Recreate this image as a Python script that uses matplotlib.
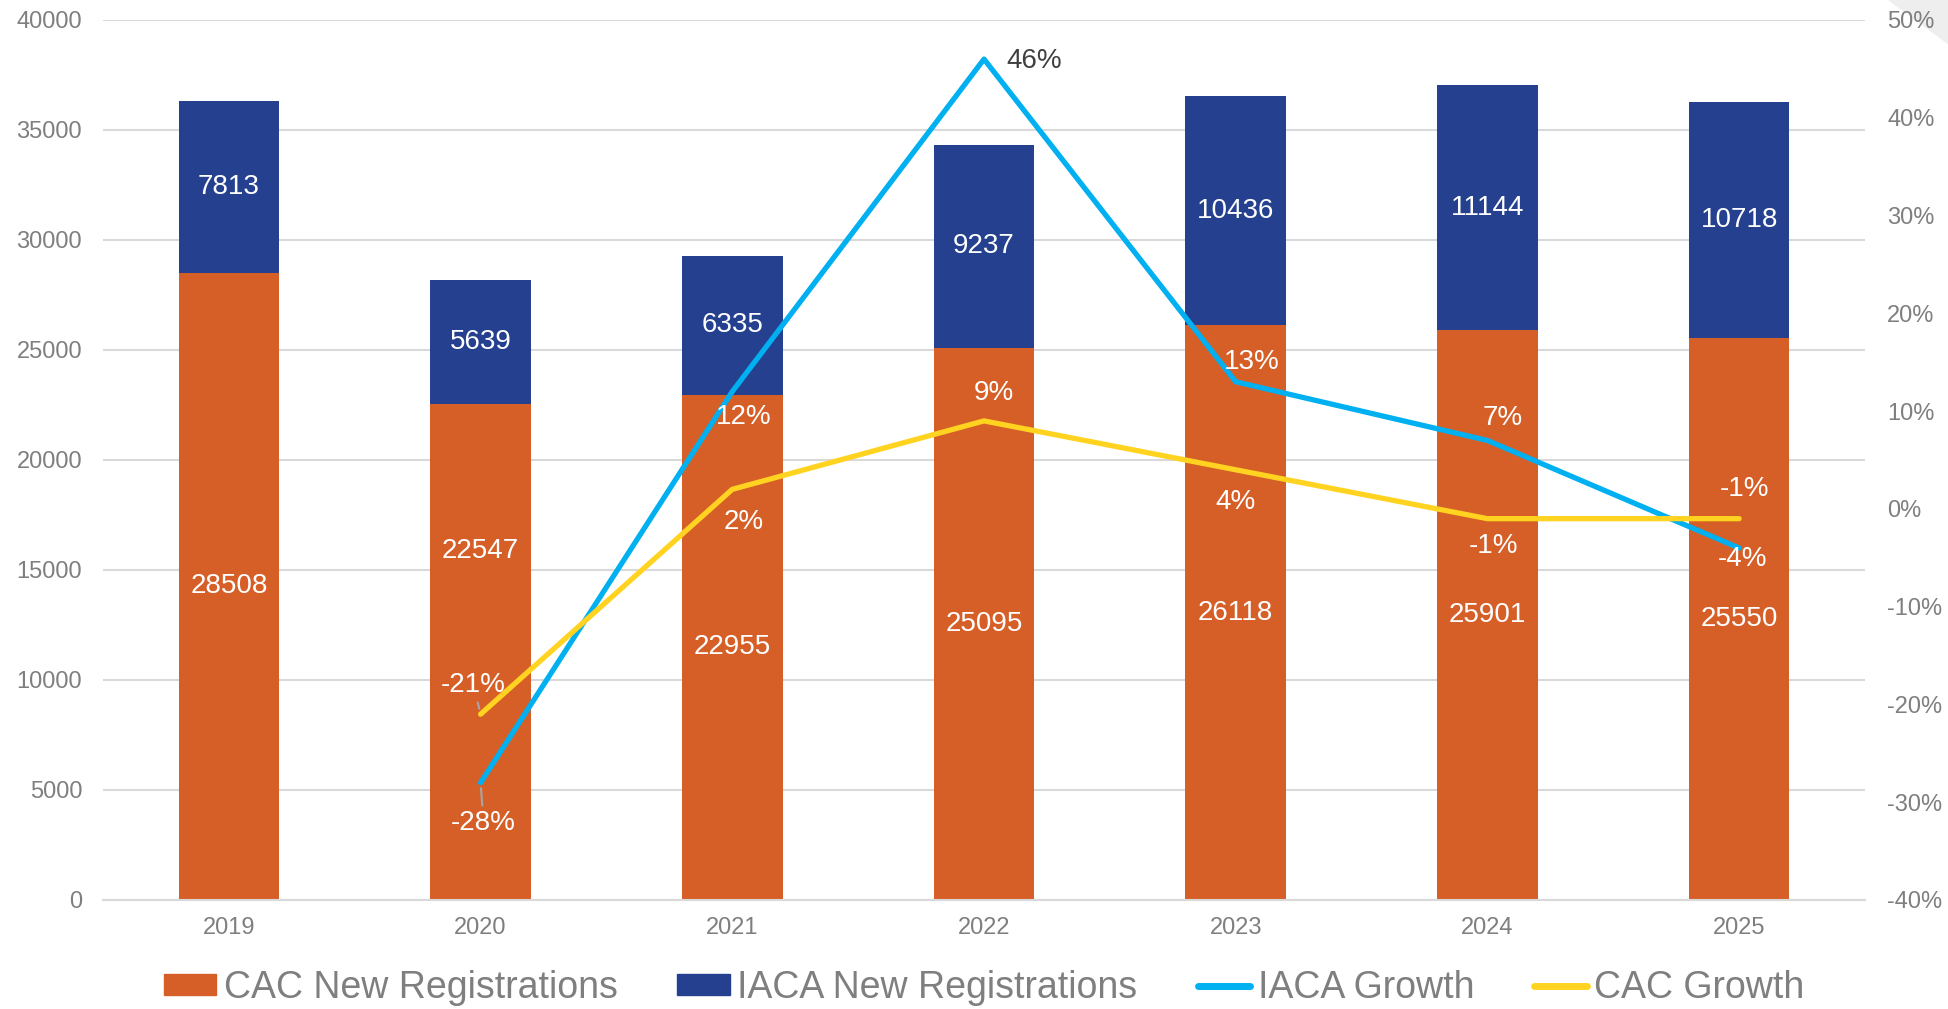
import matplotlib
matplotlib.use('Agg')
import matplotlib.pyplot as plt
from matplotlib.patches import Polygon, Patch
from matplotlib.lines import Line2D
from matplotlib.ticker import FuncFormatter

plt.rcParams['font.family'] = ['Liberation Sans', 'DejaVu Sans']

years = ['2019', '2020', '2021', '2022', '2023', '2024', '2025']
cac_new = [28508, 22547, 22955, 25095, 26118, 25901, 25550]
iaca_new = [7813, 5639, 6335, 9237, 10436, 11144, 10718]
growth_years = ['2020', '2021', '2022', '2023', '2024', '2025']
iaca_growth = [-28, 12, 46, 13, 7, -4]
cac_growth = [-21, 2, 9, 4, -1, -1]

orange = '#D65F28'
navy = '#24408E'
blue = '#00B0F0'
yellow = '#FFD320'
grey_txt = '#7F7F7F'
grid_c = '#D9D9D9'

fig = plt.figure(figsize=(19.49, 10.09), dpi=100)

# folded page corner, behind everything
fig.patches.append(Polygon([(1888 / 1949, 1), (1, 1), (1, 1 - 45 / 1009)], closed=True,
                           transform=fig.transFigure, facecolor='#EEEEEE',
                           edgecolor='none', zorder=-5))

ax = fig.add_axes([103 / 1949, 1 - 900 / 1009, (1865 - 103) / 1949, 880 / 1009])

x = list(range(len(years)))
ax.bar(x, cac_new, width=0.4, color=orange, zorder=2)
ax.bar(x, iaca_new, width=0.4, bottom=cac_new, color=navy, zorder=2)

ax.set_xlim(-0.5, len(years) - 0.5)
ax.set_ylim(0, 40000)
ax.set_yticks(range(0, 40001, 5000))
ax.set_xticks(x)
ax.set_xticklabels(years)
ax.grid(axis='y', color=grid_c, linewidth=1.5, zorder=0)
ax.set_axisbelow(True)
for s in ['top', 'right', 'left']:
    ax.spines[s].set_visible(False)
ax.spines['bottom'].set_color(grid_c)
ax.spines['bottom'].set_linewidth(1.5)
ax.tick_params(axis='both', length=0, labelsize=17, labelcolor=grey_txt)
ax.tick_params(axis='x', pad=12)
ax.tick_params(axis='y', pad=15)

# bar labels (2020 CAC label is lifted above the growth lines)
for i in x:
    lift = 4600 if years[i] == '2020' else 0
    ax.text(i, cac_new[i] / 2 + lift, str(cac_new[i]), ha='center', va='center',
            color='white', fontsize=20, zorder=3)
    ax.text(i, cac_new[i] + iaca_new[i] / 2, str(iaca_new[i]), ha='center', va='center',
            color='white', fontsize=20, zorder=3)

ax2 = ax.twinx()
gx = [years.index(y) for y in growth_years]
ax2.plot(gx, iaca_growth, color=blue, linewidth=3.8, solid_capstyle='round', zorder=4)
ax2.plot(gx, cac_growth, color=yellow, linewidth=3.8, solid_capstyle='round', zorder=4)
ax2.set_ylim(-40, 50)
ax2.set_yticks(range(-40, 51, 10))
ax2.yaxis.set_major_formatter(FuncFormatter(lambda v, p: f'{v:.0f}%'))
for s in ax2.spines.values():
    s.set_visible(False)
ax2.tick_params(axis='y', length=0, labelsize=17, labelcolor=grey_txt, pad=16)

# growth labels: offsets in pixels from the point
iaca_off = [(3, -40), (11, -25), (22, -2), (16, 20), (15, 22), (3, -11)]
cac_off = [(-7, 29), (11, -33), (10, 28), (0, -32), (6, -27), (5, 30)]
leader = dict(arrowstyle='-', color='#A6A6A6', lw=1.5, shrinkA=1, shrinkB=4)

for (xi, v, off) in zip(gx, iaca_growth, iaca_off):
    col = '#404040' if v == max(iaca_growth) else 'white'
    ha = 'left' if v == max(iaca_growth) else 'center'
    kw = dict(arrowprops=leader) if xi == 1 else {}
    ax2.annotate(f'{v}%', (xi, v), xytext=off, textcoords='offset pixels',
                 ha=ha, va='center', color=col, fontsize=20, zorder=5, **kw)
for (xi, v, off) in zip(gx, cac_growth, cac_off):
    kw = dict(arrowprops=leader) if xi == 1 else {}
    ax2.annotate(f'{v}%', (xi, v), xytext=off, textcoords='offset pixels',
                 ha='center', va='center', color='white', fontsize=20, zorder=5, **kw)

handles = [Patch(color=orange), Patch(color=navy),
           Line2D([], [], color=blue, lw=5, solid_capstyle='round'),
           Line2D([], [], color=yellow, lw=5, solid_capstyle='round')]
labels = ['CAC New Registrations', 'IACA New Registrations', 'IACA Growth', 'CAC Growth']
fig.legend(handles, labels, loc='center', bbox_to_anchor=(984 / 1949, 1 - 988 / 1009),
           ncol=4, frameon=False, fontsize=27, labelcolor=grey_txt,
           handlelength=1.4, handleheight=0.5, handletextpad=0.2, columnspacing=1.6,
           borderpad=0)

fig.savefig('out.png', dpi=100)
